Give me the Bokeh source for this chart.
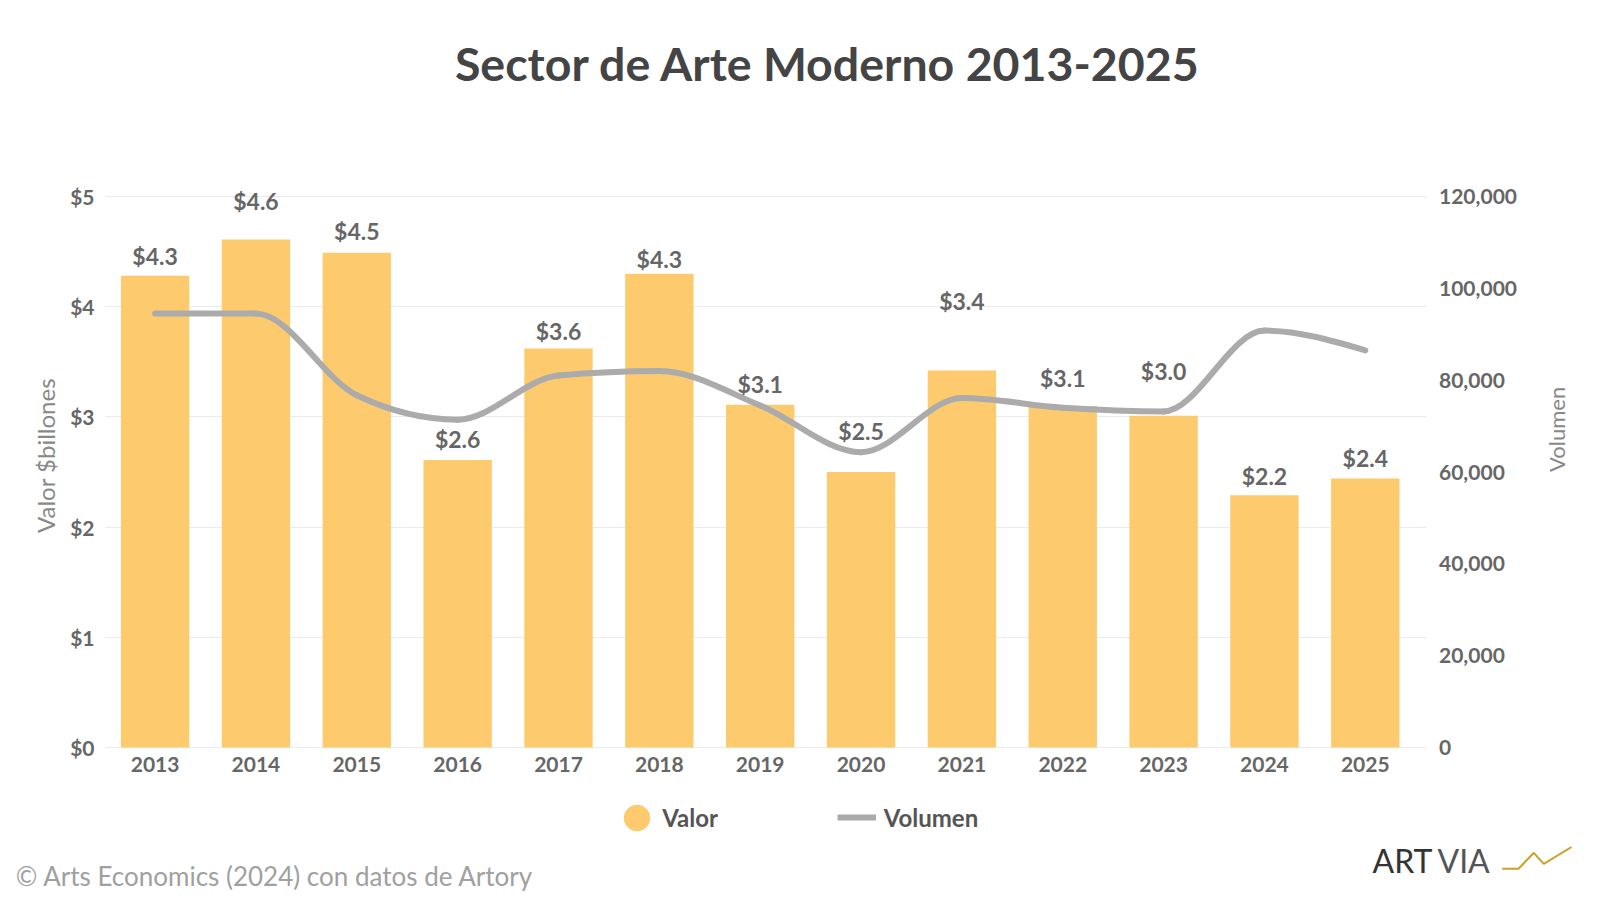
import math
import numpy as np
from bokeh.plotting import figure
from bokeh.models import (ColumnDataSource, Range1d, LinearAxis, FixedTicker,
                          NumeralTickFormatter, Label, Legend, LegendItem)
from bokeh.core.properties import value
from bokeh.embed import file_html
from bokeh.resources import INLINE

# ---------------- data ----------------
years = ["2013", "2014", "2015", "2016", "2017", "2018", "2019",
         "2020", "2021", "2022", "2023", "2024", "2025"]
valor = [4.28, 4.61, 4.49, 2.61, 3.62, 4.30, 3.11, 2.50, 3.42, 3.10, 3.01, 2.29, 2.44]
valor_labels = ["$4.3", "$4.6", "$4.5", "$2.6", "$3.6", "$4.3", "$3.1",
                "$2.5", "$3.4", "$3.1", "$3.0", "$2.2", "$2.4"]
volumen = [94500, 94500, 76700, 71400, 81000, 82000, 74500,
           64300, 76100, 74000, 73200, 90800, 86500]
left_ticks = [0, 1, 2, 3, 4, 5]
left_tick_labels = ["$0", "$1", "$2", "$3", "$4", "$5"]
right_ticks = [0, 20000, 40000, 60000, 80000, 100000, 120000]

title_text = "Sector de Arte Moderno 2013-2025"
source_text = "\u00a9  Arts Economics (2024) con datos de Artory"

# ---------------- style / geometry ----------------
FONT = "Lato"
BAR = "#FDCB6E"
LINE = "#ABABAB"
TXT = "#666666"
W, H = 1600, 898
PX_X, X0 = 100.85, 154.6     # px per category step, px of first category
PX_Y, Y0 = 110.2, 747.0      # px per $1, px of $0
PLOT_L, PLOT_R = 105.0, 1425.5   # plotting area edges (px)
label_lift = [20, 38, 22, 21, 18, 15, 21, 41, 70, 28, 45, 19, 21]  # px above bar top

idx = list(range(len(years)))


def dx(X):
    return (X - X0) / PX_X


def dy(Y):
    return (Y0 - Y) / PX_Y


vol_per_unit = right_ticks[-1] / left_ticks[-1]

p = figure(width=W, height=H, output_backend="svg", toolbar_location=None,
           x_range=Range1d(dx(0), dx(W)), y_range=Range1d(dy(H), dy(0)),
           min_border=0, outline_line_color=None,
           background_fill_color="white", border_fill_color="white")
p.extra_y_ranges = {"vol": Range1d(dy(H) * vol_per_unit, dy(0) * vol_per_unit)}

# grid limited to plotting area
p.xgrid.visible = False
g = p.ygrid[0]
g.ticker = FixedTicker(ticks=left_ticks)
g.grid_line_color = "#EBEBEB"
g.grid_line_width = 1
if "cross_bounds" in g.properties():
    g.cross_bounds = (dx(PLOT_L), dx(PLOT_R))
else:
    g.visible = False
    p.segment(x0=[dx(PLOT_L)] * len(left_ticks), x1=[dx(PLOT_R)] * len(left_ticks),
              y0=left_ticks, y1=left_ticks, line_color="#EBEBEB", line_width=1)


def style_axis(ax):
    ax.axis_line_color = None
    ax.major_tick_line_color = None
    ax.minor_tick_line_color = None
    ax.major_tick_out = 0
    ax.major_tick_in = 0
    ax.minor_tick_out = 0
    ax.minor_tick_in = 0
    ax.major_label_text_font = FONT
    ax.major_label_text_font_size = "21px"
    ax.major_label_text_font_style = "bold"
    ax.major_label_text_color = TXT
    ax.axis_label_text_font = FONT
    ax.axis_label_text_font_style = "normal"
    ax.axis_label_text_color = "#888888"


xa = p.xaxis[0]
style_axis(xa)
xa.fixed_location = 0
xa.ticker = FixedTicker(ticks=idx)
xa.major_label_overrides = {i: y for i, y in zip(idx, years)}
xa.major_label_standoff = 9

ya = p.yaxis[0]
style_axis(ya)
ya.fixed_location = dx(PLOT_L)
ya.bounds = (0, dy(455) * 2)          # centres the axis title like the reference
ya.ticker = FixedTicker(ticks=left_ticks)
ya.major_label_overrides = {t: l for t, l in zip(left_ticks, left_tick_labels)}
ya.major_label_standoff = 11
ya.axis_label = "Valor $billones"
ya.axis_label_text_font_size = "24px"
ya.axis_label_standoff = 7

ra = LinearAxis(y_range_name="vol", ticker=FixedTicker(ticks=right_ticks),
                formatter=NumeralTickFormatter(format="0,0"), axis_label="Volumen")
style_axis(ra)
ra.fixed_location = dx(PLOT_R)
ra.bounds = (right_ticks[0], right_ticks[-1])
ra.major_label_standoff = 13
ra.axis_label_text_font_size = "22px"
ra.axis_label_standoff = 36
ra.axis_label_orientation = math.pi / 2
p.add_layout(ra, "right")

# bars
src = ColumnDataSource(dict(x=idx, top=valor, lab=valor_labels,
                            off=[-v for v in label_lift]))
p.vbar(x="x", top="top", width=0.678, source=src, fill_color=BAR, line_color=None)


# smoothed volume line: monotone cubic through the data points
def monotone_segments(xs, ys):
    xs = np.asarray(xs, float)
    ys = np.asarray(ys, float)
    n = len(xs)
    h = np.diff(xs)
    s = np.diff(ys) / h
    t = np.zeros(n)
    for i in range(1, n - 1):
        s0, s1 = s[i - 1], s[i]
        pp = (s0 * h[i] + s1 * h[i - 1]) / (h[i - 1] + h[i])
        t[i] = (np.sign(s0) + np.sign(s1)) * min(abs(s0), abs(s1), 0.5 * abs(pp))
    t[0] = (3 * s[0] - t[1]) / 2
    t[-1] = (3 * s[-1] - t[-2]) / 2
    return dict(x0=xs[:-1], y0=ys[:-1], x1=xs[1:], y1=ys[1:],
                cx0=xs[:-1] + h / 3, cy0=ys[:-1] + t[:-1] * h / 3,
                cx1=xs[1:] - h / 3, cy1=ys[1:] - t[1:] * h / 3)


bz = ColumnDataSource(monotone_segments(idx, volumen))
p.bezier(x0="x0", y0="y0", x1="x1", y1="y1", cx0="cx0", cy0="cy0",
         cx1="cx1", cy1="cy1", source=bz, y_range_name="vol",
         line_color=LINE, line_width=6, line_cap="round")

# value labels
p.text(x="x", y="top", text="lab", y_offset="off", source=src,
       text_align="center", text_baseline="middle", text_font=value(FONT),
       text_font_size="23px", text_font_style="bold", text_color=TXT)

# legend (proxy renderers carry the legend styling only)
r_dot = p.ellipse(x=[np.nan], y=[np.nan], width=10, height=10,
                  width_units="screen", height_units="screen",
                  fill_color=BAR, line_color=None)
r_ln = p.line(x=[np.nan, np.nan], y=[np.nan, np.nan], line_color=LINE, line_width=6)

leg_common = dict(orientation="horizontal", padding=0, margin=0,
                  border_line_color=None, background_fill_alpha=0,
                  label_text_font=FONT, label_text_font_size="24px",
                  label_text_font_style="bold", label_text_color="#555555")
p.add_layout(Legend(items=[LegendItem(label="Valor", renderers=[r_dot])],
                    location=(620.2, 64.1), glyph_width=33, glyph_height=33,
                    label_standoff=9, **leg_common))
p.add_layout(Legend(items=[LegendItem(label="Volumen", renderers=[r_ln])],
                    location=(836.7, 65.6), glyph_width=39, glyph_height=30,
                    label_standoff=8, **leg_common))

# title
p.add_layout(Label(x=dx(827.6), y=dy(62), text=title_text, text_align="center",
                   text_baseline="middle", text_font=FONT, text_font_size="46.5px",
                   text_font_style="bold", text_color="#444444"))

# source
p.add_layout(Label(x=dx(15.3), y=dy(875.5), text=source_text, text_align="left",
                   text_baseline="middle", text_font=FONT, text_font_size="26px",
                   text_color="#A0A0A0"))

# logo
p.add_layout(Label(x=dx(1372), y=dy(860), text="ART", text_align="left",
                   text_baseline="middle", text_font=FONT, text_font_size="32px",
                   text_color="#333333"))
p.add_layout(Label(x=dx(1437), y=dy(860), text="VIA", text_align="left",
                   text_baseline="middle", text_font=FONT, text_font_size="32px",
                   text_color="#555555"))
zig_x = [1501.7, 1518.0, 1533.3, 1543.3, 1571.0]
zig_y = [868.3, 868.3, 852.3, 863.3, 846.5]
p.line(x=[dx(v) for v in zig_x], y=[dy(v) for v in zig_y],
       line_color="#C9A227", line_width=2)

open("out.html", "w").write(file_html(p, INLINE))
